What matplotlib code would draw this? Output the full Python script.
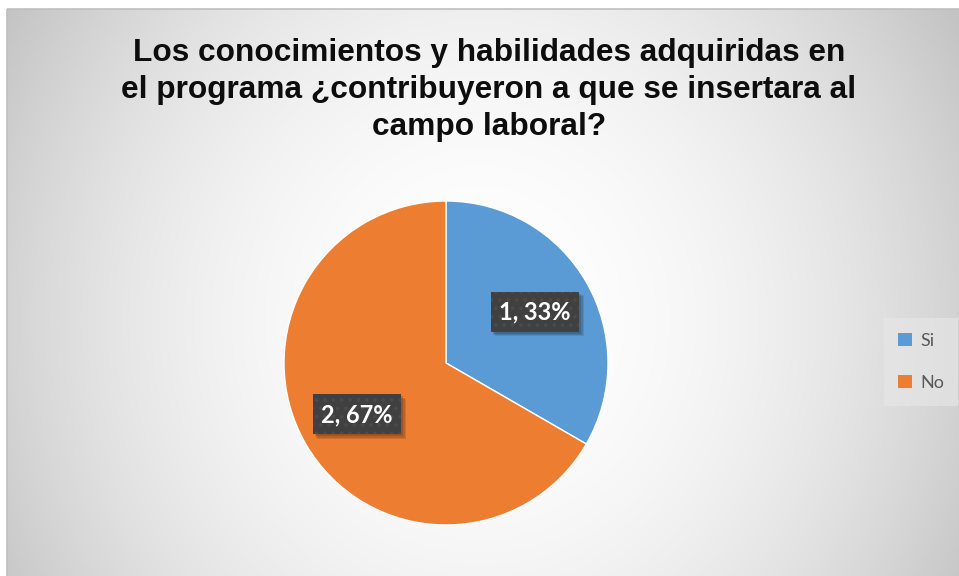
"""
Pie chart: ¿los conocimientos y habilidades del programa contribuyeron
a la inserción en el campo laboral? (Si / No)
"""

import numpy as np
import matplotlib
matplotlib.use("Agg")
import matplotlib.pyplot as plt
from matplotlib.patches import Patch, Rectangle

# Data
categories = ["Si", "No"]
counts = [1, 2]
colors = ["#5B9BD5", "#ED7D31"]
title = ("Los conocimientos y habilidades adquiridas en\n"
         "el programa ¿contribuyeron a que se insertara al\n"
         "campo laboral?")

W, H = 959, 576
fig = plt.figure(figsize=(W / 100, H / 100), dpi=100)
fig.patch.set_facecolor("white")

# Background axes in pixel coordinates (y down)
bg = fig.add_axes([0, 0, 1, 1])
bg.set_xlim(0, W)
bg.set_ylim(H, 0)
bg.axis("off")

# radial (elliptical) gray gradient inside the chart frame
x0, y0 = 7, 9
xx, yy = np.meshgrid(np.arange(x0, W + 1), np.arange(y0, H + 1))
shade = 255 - 43 * ((xx - 480) / 470.0) ** 2 - 15 * ((yy - 320) / 300.0) ** 2
shade = np.clip(shade, 195, 255) / 255.0
rgb = np.dstack([shade, shade, shade])
bg.imshow(rgb, extent=[x0, W + 1, H + 1, y0],
          interpolation="bilinear", aspect="auto", zorder=0)
bg.add_patch(Rectangle((x0, y0), W + 10, H + 10, fill=False,
                       edgecolor="#bfbfbf", linewidth=1.2, zorder=1))

# Title
fig.text(489 / W, 1 - 90 / H, title, ha="center", va="center",
         fontsize=22.8, fontweight="bold", family="Liberation Sans",
         color="#0d0d0d", linespacing=1.3)

# Pie axes: centre (446, 363), radius 162 px
cx, cy, r = 446, 363, 162
ax = fig.add_axes([(cx - r) / W, (H - cy - r) / H, 2 * r / W, 2 * r / H])
total = sum(counts)
wedges, _, autotexts = ax.pie(
    counts, colors=colors, startangle=90, counterclock=False,
    autopct=lambda p: f"{round(p * total / 100)}, {p:.0f}%",
    pctdistance=0.635,
    wedgeprops=dict(edgecolor="white", linewidth=1.0),
    textprops=dict(color="white", fontsize=17, fontweight="bold", family="Lato"),
)
ax.set_xlim(-1, 1)
ax.set_ylim(-1, 1)
ax.set_aspect("auto")

plt.rcParams["hatch.linewidth"] = 1.5
for t in autotexts:
    t.set_zorder(5)
    t.set_bbox(dict(boxstyle="square,pad=0.36", facecolor="#404040",
                    edgecolor="#4a4a4a", hatch="..", linewidth=0))

# soft drop shadow behind each label box (taken from the rendered box)
fig.canvas.draw()
for t in autotexts:
    ext = t.get_bbox_patch().get_window_extent()
    for off, a in [(4.5, 0.10), (3.5, 0.12), (2, 0.15)]:
        ax.add_patch(Rectangle((ext.x0 + off, ext.y0 - off), ext.width, ext.height,
                               transform=None, facecolor="black", edgecolor="none",
                               alpha=a, zorder=4))

# Legend
handles = [Patch(facecolor=c, edgecolor="none", label=l) for c, l in zip(colors, categories)]
leg = fig.legend(handles=handles, loc="center left",
                 bbox_to_anchor=(884 / W, 1 - 362 / H), borderaxespad=0,
                 frameon=True, fancybox=False, handlelength=0.75, handleheight=0.75,
                 handletextpad=0.45, labelspacing=1.45, borderpad=0.8,
                 prop=dict(family="Lato", size=13))
leg.get_frame().set_facecolor("#e8e8e8")
leg.get_frame().set_edgecolor("none")
leg.get_frame().set_alpha(0.6)
for txt in leg.get_texts():
    txt.set_color("#595959")

fig.savefig("out.png", dpi=100)
